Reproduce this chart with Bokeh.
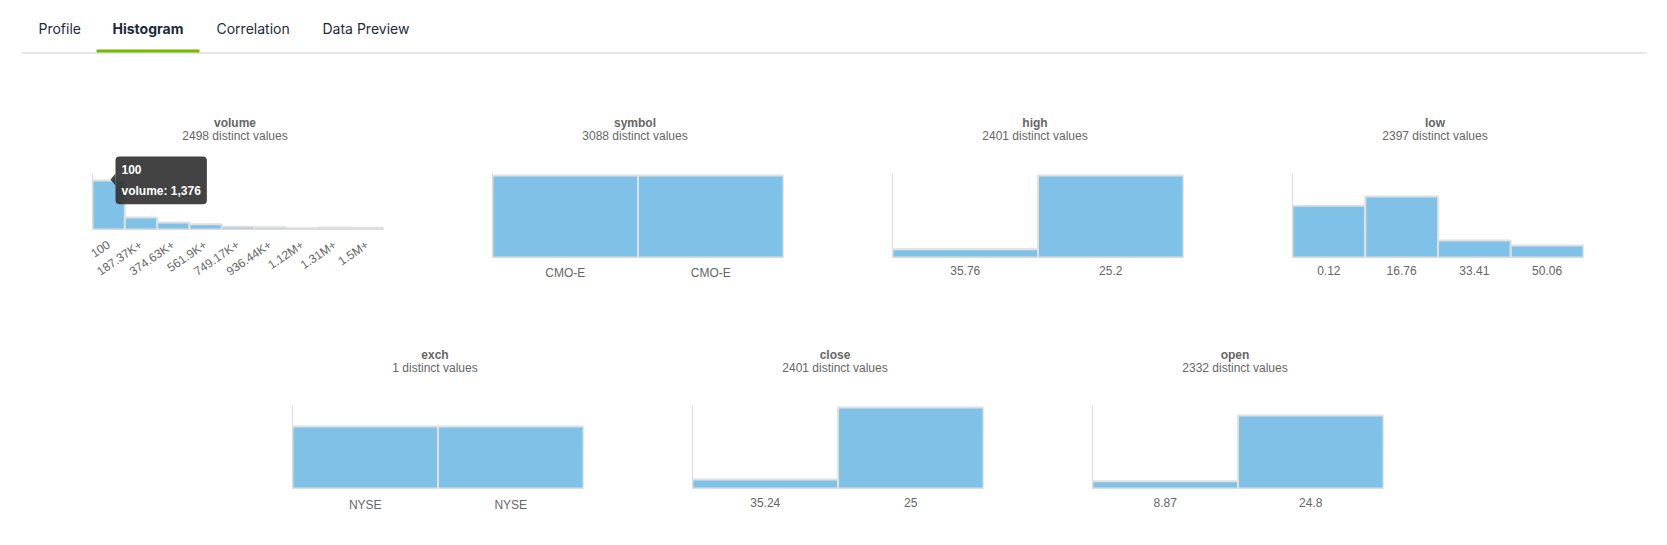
from bokeh.plotting import figure
from bokeh.models import Range1d, FixedTicker, Label, Spacer, PolyAnnotation
from bokeh.layouts import row, column
from bokeh.embed import file_html
from bokeh.resources import INLINE
from bokeh.core.properties import value

# ---------------- data ----------------
tabs = ["Profile", "Histogram", "Correlation", "Data Preview"]
active_tab = "Histogram"

volume_labels = ["100", "187.37K+", "374.63K+", "561.9K+", "749.17K+",
                 "936.44K+", "1.12M+", "1.31M+", "1.5M+"]
volume_counts = [1376, 337, 197, 149, 76, 65, 37, 56, 48]

symbol_labels = ["CMO-E", "CMO-E"]
symbol_counts = [1544, 1544]

high_labels = ["35.76", "25.2"]
high_counts = [300, 3000]

low_labels = ["0.12", "16.76", "33.41", "50.06"]
low_counts = [1190, 1400, 390, 275]

exch_labels = ["NYSE", "NYSE"]
exch_counts = [1620, 1620]

close_labels = ["35.24", "25"]
close_counts = [330, 2970]

open_labels = ["8.87", "24.8"]
open_counts = [280, 2800]

names = ["volume", "symbol", "high", "low", "exch", "close", "open"]
distinct = [2498, 3088, 2401, 2397, 1, 2401, 2332]

# ---------------- style ----------------
BAR_FILL = "#80c2e7"
BAR_EDGE = "#e0e0e0"
AXIS_COL = "#dcdcdc"
TXT = "#666666"
FONT = "Liberation Sans"
FRAME_W = 291
HEAD = 62  # space above the axis (inside the frame) for titles / tooltip


def make_hist(name, ndist, labels, counts, headroom, axis_h, b_top, b_bottom,
              rotated=False, standoff=2):
    n = len(labels)
    idx = list(range(n))
    axis_top = max(counts) * headroom
    y_end = axis_top * (axis_h + HEAD) / axis_h
    p = figure(frame_width=FRAME_W, frame_height=axis_h + HEAD,
               min_border_left=40, min_border_right=69,
               min_border_top=b_top, min_border_bottom=b_bottom,
               x_range=Range1d(-0.5, n - 0.5),
               y_range=Range1d(0, y_end),
               output_backend="svg", toolbar_location=None, tools="")
    p.outline_line_color = None
    p.grid.visible = False
    p.background_fill_color = "white"
    p.border_fill_color = "white"
    p.vbar(x=idx, top=counts, bottom=0, width=1,
           fill_color=BAR_FILL, line_color=BAR_EDGE, line_width=2)

    xa = p.xaxis[0]
    xa.ticker = FixedTicker(ticks=idx)
    xa.major_label_overrides = {i: lab for i, lab in enumerate(labels)}
    xa.axis_line_color = AXIS_COL
    xa.major_tick_line_color = None
    xa.minor_tick_line_color = None
    xa.major_label_text_font = FONT
    xa.major_label_text_font_size = "12px"
    xa.major_label_text_color = TXT
    xa.major_label_standoff = standoff
    if rotated:
        xa.major_label_orientation = 0.6

    ya = p.yaxis[0]
    ya.ticker = FixedTicker(ticks=[])
    ya.bounds = (0, axis_top)
    ya.axis_line_color = AXIS_COL
    ya.major_tick_line_color = None
    ya.minor_tick_line_color = None
    ya.major_label_text_font_size = "0px"

    p.add_layout(Label(x=FRAME_W / 2 - 3, y=axis_h + 51, x_units="screen", y_units="screen",
                       text=name, text_align="center", text_baseline="middle",
                       text_font=FONT, text_font_size="12px", text_font_style="bold",
                       text_color=TXT))
    p.add_layout(Label(x=FRAME_W / 2 - 3, y=axis_h + 38, x_units="screen", y_units="screen",
                       text=f"{ndist} distinct values", text_align="center",
                       text_baseline="middle", text_font=FONT, text_font_size="12px",
                       text_color=TXT))
    return p


# ---------------- header (tabs) ----------------
hdr = figure(width=1651, height=98, x_range=Range1d(0, 1651), y_range=Range1d(98, 0),
             x_axis_location=None, y_axis_location=None, min_border=0,
             output_backend="svg", toolbar_location=None, tools="")
hdr.outline_line_color = None
hdr.grid.visible = False
tab_x = [38, 112, 216, 322]
for t, tx in zip(tabs, tab_x):
    hdr.text(x=[tx], y=[28], text=[t], text_font=value("Inter"),
             text_font_size=value("14px"),
             text_font_style="bold" if t == active_tab else "normal",
             text_color="#1c2b3b", text_baseline="middle", text_align="left")
hdr.segment(x0=[21], y0=[52.5], x1=[1646], y1=[52.5], line_color="#c9cdd2", line_width=1)
hdr.segment(x0=[96], y0=[50.5], x1=[199], y1=[50.5], line_color="#76b900", line_width=3)

# ---------------- row 1 ----------------
p_vol = make_hist(names[0], distinct[0], volume_labels, volume_counts, 1.143, 56, 12, 80,
                  rotated=True, standoff=8)
p_sym = make_hist(names[1], distinct[1], symbol_labels, symbol_counts, 1.024, 84, 13, 51)
p_high = make_hist(names[2], distinct[2], high_labels, high_counts, 1.024, 84, 13, 51)
p_low = make_hist(names[3], distinct[3], low_labels, low_counts, 1.377, 84, 13, 51)

# tooltip on first volume bar
p_vol.add_layout(PolyAnnotation(xs=[18, 23, 23], ys=[50, 56, 44], xs_units="screen",
                                ys_units="screen", fill_color="#333333", fill_alpha=0.92,
                                line_color=None))
p_vol.add_layout(Label(x=23, y=73, x_units="screen", y_units="screen",
                       text=f"{volume_labels[0]}\nvolume: {volume_counts[0]:,}",
                       text_align="left", text_baseline="top", text_font=FONT,
                       text_font_size="12px", text_font_style="bold", text_color="white",
                       text_line_height=1.55,
                       background_fill_color="#333333", background_fill_alpha=0.92,
                       border_radius=4, padding=6))

# ---------------- row 2 ----------------
p_exch = make_hist(names[4], distinct[4], exch_labels, exch_counts, 1.34, 83, 35, 48, standoff=3)
p_close = make_hist(names[5], distinct[5], close_labels, close_counts, 1.025, 83, 35, 48, standoff=3)
p_open = make_hist(names[6], distinct[6], open_labels, open_counts, 1.137, 83, 35, 48, standoff=3)

layout = column(
    hdr,
    row(Spacer(width=52, height=210), p_vol, p_sym, p_high, p_low),
    row(Spacer(width=252, height=228), p_exch, p_close, p_open),
)

open("out.html", "w").write(file_html(layout, INLINE, title="Histogram"))
